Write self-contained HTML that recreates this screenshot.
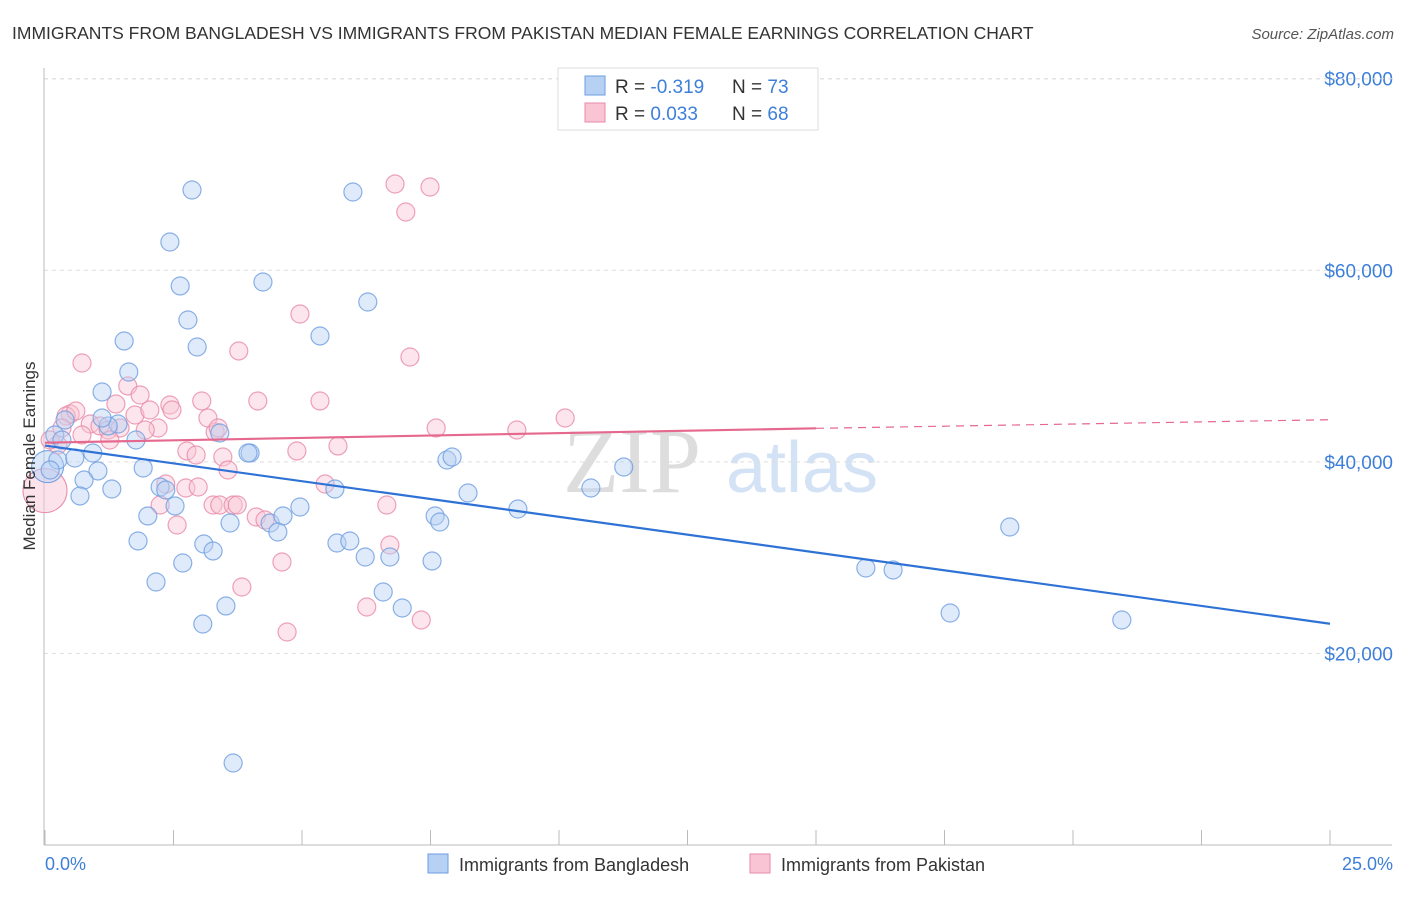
<!DOCTYPE html>
<html><head><meta charset="utf-8"><style>
body{margin:0;background:#fff;font-family:"Liberation Sans",sans-serif;}
</style></head><body>
<svg width="1406" height="892" xmlns="http://www.w3.org/2000/svg" id="svg">
<text x="12" y="39" font-size="17.5" fill="#333">IMMIGRANTS FROM BANGLADESH VS IMMIGRANTS FROM PAKISTAN MEDIAN FEMALE EARNINGS CORRELATION CHART</text>
<text x="1394" y="39" font-size="15" fill="#555" font-style="italic" text-anchor="end">Source: ZipAtlas.com</text>
<g>
<text x="632" y="492" font-size="92" fill="#ddd" font-family="Liberation Serif" text-anchor="middle">ZIP</text>
<text x="802" y="492" font-size="72" fill="#d4e2f5" text-anchor="middle">atlas</text>
</g>
<g id="grid"></g>
<g id="marks"></g>
<text transform="translate(35,456) rotate(-90)" font-size="17" fill="#333" text-anchor="middle">Median Female Earnings</text>
<text x="45" y="870" font-size="18" fill="#3d7fd9">0.0%</text>
<text x="1393" y="870" font-size="18" fill="#3d7fd9" text-anchor="end">25.0%</text>
<g>
<rect x="558" y="68" width="260" height="62" fill="#fff" stroke="#ddd"/>
<rect x="585" y="76" width="20" height="19" fill="#b7d1f5" stroke="#6e9de0"/>
<rect x="585" y="103" width="20" height="19" fill="#f9c5d5" stroke="#e88aa8"/>
<text x="615" y="93" font-size="19" fill="#333">R = <tspan fill="#3d7fd9">-0.319</tspan></text>
<text x="732" y="93" font-size="19" fill="#333">N = <tspan fill="#3d7fd9">73</tspan></text>
<text x="615" y="120" font-size="19" fill="#333">R = <tspan fill="#3d7fd9"> 0.033</tspan></text>
<text x="732" y="120" font-size="19" fill="#333">N = <tspan fill="#3d7fd9">68</tspan></text>
</g>
<g>
<rect x="428" y="854" width="20" height="19" fill="#b7d1f5" stroke="#6e9de0"/>
<text x="459" y="871" font-size="18" fill="#333">Immigrants from Bangladesh</text>
<rect x="750" y="854" width="20" height="19" fill="#f9c5d5" stroke="#e88aa8"/>
<text x="781" y="871" font-size="18" fill="#333">Immigrants from Pakistan</text>
</g>
</svg>
<script>
const yTicks=[20000,40000,60000,80000];
const yTickLabels=["$20,000","$40,000","$60,000","$80,000"];
const xTicks=[0,2.5,5,7.5,10,12.5,15,17.5,20,22.5,25];
const bluePx=[[192,190],[170,242],[180,286],[188,320],[197,347],[124,341],[129,372],[102,392],[263,282],[320,336],[368,302],[353,192],[55,435],[65,420],[58,460],[75,458],[93,453],[98,471],[84,480],[112,489],[80,496],[136,440],[143,468],[118,424],[220,433],[250,453],[248,453],[160,487],[166,490],[175,506],[148,516],[138,541],[156,582],[183,563],[204,544],[213,551],[230,523],[226,606],[203,624],[233,763],[270,523],[283,516],[278,532],[300,507],[335,489],[337,543],[350,541],[365,557],[390,557],[383,592],[402,608],[432,561],[435,516],[440,522],[447,460],[452,457],[468,493],[518,509],[591,488],[624,467],[866,568],[893,570],[950,613],[1010,527],[1122,620],[50,470],[108,426],[62,440],[102,418]];
const pinkPx=[[395,184],[430,187],[406,212],[300,314],[239,351],[410,357],[82,363],[128,386],[140,395],[202,401],[258,401],[320,401],[116,404],[70,414],[66,416],[76,411],[90,424],[100,426],[108,430],[120,428],[135,415],[150,410],[158,428],[170,405],[187,451],[196,455],[215,432],[223,457],[172,410],[208,418],[218,428],[228,470],[436,428],[517,430],[565,418],[338,446],[297,451],[166,484],[186,488],[198,487],[160,505],[177,525],[213,505],[220,505],[233,505],[237,505],[256,517],[265,520],[325,484],[387,505],[390,545],[282,562],[242,587],[367,607],[421,620],[287,632],[58,445],[50,440],[62,428],[82,435],[110,440],[145,430]];
// convert read positions into data values (x %, y $)
const blueX=bluePx.map(p=>+((p[0]-45)/51.4).toFixed(2));
const blueY=bluePx.map(p=>Math.round((845-p[1])*104.4));
const pinkX=pinkPx.map(p=>+((p[0]-45)/51.4).toFixed(2));
const pinkY=pinkPx.map(p=>Math.round((845-p[1])*104.4));
const blueTrend=[[0,41700],[25,23100]];
const pinkTrend=[[0,42000],[15,43500],[25,44400]];
const X=v=>45+v*51.4, Y=v=>845-v/104.4;
const NS="http://www.w3.org/2000/svg";
function mk(t,a,p){const e=document.createElementNS(NS,t);for(const k in a)e.setAttribute(k,a[k]);p.appendChild(e);return e;}
const g=document.getElementById('grid'), m=document.getElementById('marks');
yTicks.forEach((v,i)=>{
 const l=mk('line',{x1:44,x2:1392,y1:Y(v),y2:Y(v),stroke:'#ddd','stroke-dasharray':'4,4'},g);
 
 
 const t=mk('text',{x:1393,y:Y(v)+7,'font-size':19,fill:'#3d7fd9','text-anchor':'end'},g);
 t.textContent=yTickLabels[i];
 
 
});
mk('line',{x1:44,x2:1392,y1:Y(80000)-0,y2:Y(80000),stroke:'#ddd','stroke-dasharray':'4,4'},g);
const ax=mk('line',{x1:44,x2:44,y1:68,y2:845,stroke:'#bbb'},g);


const bx=mk('line',{x1:44,x2:1392,y1:845,y2:845,stroke:'#bbb'},g);


xTicks.forEach(v=>{const t=mk('line',{x1:X(v),x2:X(v),y1:830,y2:845,stroke:'#bbb'},g);
 
 });
function dots(xs,ys,fill,stroke,name){xs.forEach((x,i)=>{const c=mk('circle',{cx:X(x),cy:Y(ys[i]),r:9,fill:fill,'fill-opacity':0.45,stroke:stroke,'stroke-width':1.2,'stroke-opacity':0.8},m);
 
 });}
let big=mk('circle',{cx:X(0),cy:Y(37000),r:22,fill:'#f9c5d5','fill-opacity':0.5,stroke:'#e88aa8'},m);


let big2=mk('circle',{cx:X(0.05),cy:Y(39500),r:16,fill:'#b7d1f5','fill-opacity':0.5,stroke:'#6e9de0'},m);


dots(pinkX,pinkY,'#f9c5d5','#e88aa8','pink-point');
dots(blueX,blueY,'#b7d1f5','#6e9de0','blue-point');
let bl=mk('line',{x1:X(blueTrend[0][0]),y1:Y(blueTrend[0][1]),x2:X(blueTrend[1][0]),y2:Y(blueTrend[1][1]),stroke:'#2f72d6','stroke-width':2.2},m);


let pl=mk('line',{x1:X(pinkTrend[0][0]),y1:Y(pinkTrend[0][1]),x2:X(pinkTrend[1][0]),y2:Y(pinkTrend[1][1]),stroke:'#e5688f','stroke-width':2.2},m);


let pd=mk('line',{x1:X(pinkTrend[1][0]),y1:Y(pinkTrend[1][1]),x2:X(pinkTrend[2][0]),y2:Y(pinkTrend[2][1]),stroke:'#e5688f','stroke-width':1.2,'stroke-dasharray':'8,6'},m);


</script>
</body></html>
